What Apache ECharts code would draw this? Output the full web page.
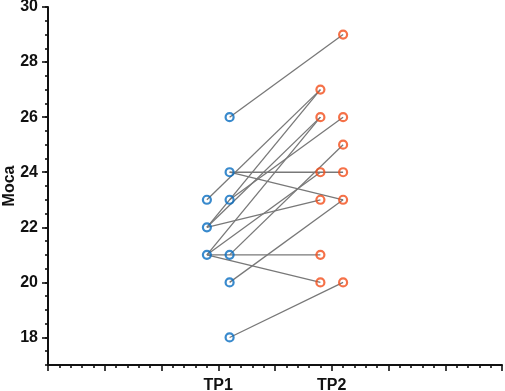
<!DOCTYPE html>
<html>
<head>
<meta charset="utf-8">
<script src="https://cdn.jsdelivr.net/npm/echarts@6/dist/echarts.min.js"></script>
<style>html,body{margin:0;padding:0;background:#fff}#c{width:505px;height:391px}</style>
</head>
<body>
<div id="c"></div>
<script>
// ---- data ----
const categories = ['TP1', 'TP2'];
const categoryPos = [3, 5];
const tp1 = [26, 23, 22, 22, 23, 21, 21, 24, 21, 24, 20, 22, 21, 21, 18];
const tp2 = [29, 27, 27, 26, 26, 26, 25, 24, 24, 23, 23, 23, 21, 20, 20];
const jitterSide = [1, -1, -1, -1, 1, -1, 1, 1, -1, 1, 1, -1, -1, -1, 1];
const yTicks = [18, 20, 22, 24, 26, 28, 30];
const yName = 'Moca';

// ---- chart ----
const JIT = 0.2;
const FONT = 'Liberation Sans, Arial, sans-serif';
function uniquePts(vals, pos) {
  const seen = new Set(); const out = [];
  vals.forEach((v, i) => {
    const p = [pos + jitterSide[i] * JIT, v];
    const key = p.join(',');
    if (!seen.has(key)) { seen.add(key); out.push(p); }
  });
  return out;
}
const series = [];
tp1.forEach((v, i) => {
  series.push({
    type: 'line', xAxisIndex: 0, yAxisIndex: 0, symbol: 'none', silent: true, z: 1,
    lineStyle: { color: '#787878', width: 1.3 },
    data: [[categoryPos[0] + jitterSide[i] * JIT, v], [categoryPos[1] + jitterSide[i] * JIT, tp2[i]]]
  });
});
series.push({
  type: 'scatter', xAxisIndex: 0, yAxisIndex: 0, symbol: 'circle', symbolSize: 8, z: 3,
  itemStyle: { color: 'rgba(255,255,255,0)', borderColor: '#076dc0', borderWidth: 2.2 },
  data: uniquePts(tp1, categoryPos[0])
});
series.push({
  type: 'scatter', xAxisIndex: 0, yAxisIndex: 0, symbol: 'circle', symbolSize: 8, z: 3,
  itemStyle: { color: 'rgba(255,255,255,0)', borderColor: '#f24e1a', borderWidth: 2.2 },
  data: uniquePts(tp2, categoryPos[1])
});

const chart = echarts.init(document.getElementById('c'), null, { renderer: 'canvas' });
chart.setOption({
  animation: false,
  backgroundColor: '#fff',
  grid: { left: 48, right: 3, top: 7, bottom: 26, containLabel: false, outerBoundsMode: 'none' },
  xAxis: [{
    type: 'value', min: 0, max: 8, interval: 1,
    axisLine: { show: true, lineStyle: { color: '#111', width: 2 } },
    axisTick: { show: true, length: 6, lineStyle: { color: '#111', width: 1.6 } },
    minorTick: { show: true, splitNumber: 5, length: 3, lineStyle: { color: '#111', width: 1.6 } },
    splitLine: { show: false },
    axisLabel: {
      margin: 13, color: '#111', fontSize: 16, fontWeight: 'bold', fontFamily: FONT,
      formatter: v => { const k = categoryPos.indexOf(v); return k >= 0 ? categories[k] : ''; }
    }
  }],
  yAxis: [{
    type: 'value', min: 17, max: 30, position: 'left',
    name: yName, nameLocation: 'middle', nameGap: 30, nameMoveOverlap: false,
    nameTextStyle: { color: '#111', fontSize: 16, fontWeight: 'bold', fontFamily: FONT },
    axisLine: { show: true, lineStyle: { color: '#111', width: 2 } },
    axisTick: { show: true, length: 6, customValues: yTicks, lineStyle: { color: '#111', width: 1.6 } },
    axisLabel: { margin: 10, customValues: yTicks, color: '#111', fontSize: 16, fontWeight: 'bold', fontFamily: FONT },
    splitLine: { show: false }
  }, {
    type: 'value', min: 17, max: 30, interval: 0.5, position: 'left',
    axisLine: { show: false },
    axisTick: { show: true, length: 3, lineStyle: { color: '#111', width: 1.6 } },
    axisLabel: { show: false },
    splitLine: { show: false }
  }],
  series: series
});
</script>
</body>
</html>
